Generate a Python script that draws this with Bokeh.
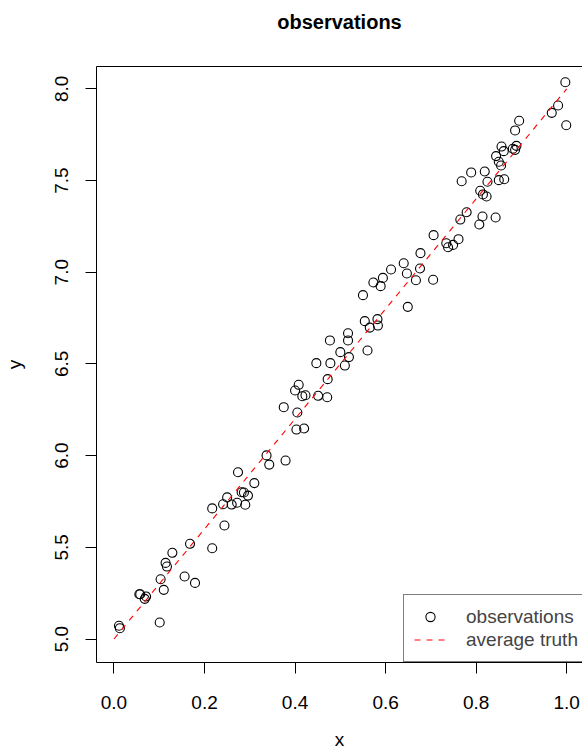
from bokeh.plotting import figure
from bokeh.models import (Range1d, LinearAxis, FixedTicker, NumeralTickFormatter,
                          Legend, LegendItem, ColumnDataSource)
from bokeh.embed import file_html
from bokeh.resources import INLINE

# ---- data ----
obs_x = [0.011, 0.013, 0.101, 0.056, 0.058, 0.068, 0.071, 0.103, 0.110, 0.114,
         0.117, 0.129, 0.156, 0.179, 0.168, 0.217, 0.217, 0.244, 0.241, 0.250,
         0.260, 0.272, 0.290, 0.282, 0.287, 0.296, 0.310, 0.274, 0.337, 0.343,
         0.379, 0.375, 0.405, 0.403, 0.420, 0.408, 0.400, 0.416, 0.423, 0.451,
         0.471, 0.472, 0.447, 0.478, 0.510, 0.477, 0.500, 0.519, 0.560, 0.517,
         0.517, 0.554, 0.565, 0.582, 0.583, 0.649, 0.550, 0.573, 0.589, 0.594,
         0.612, 0.640, 0.647, 0.667, 0.676, 0.677, 0.705, 0.706, 0.734, 0.738,
         0.749, 0.761, 0.765, 0.779, 0.807, 0.814, 0.843, 0.809, 0.815, 0.823,
         0.768, 0.789, 0.819, 0.825, 0.850, 0.862, 0.844, 0.850, 0.855, 0.856,
         0.861, 0.881, 0.886, 0.889, 0.886, 0.895, 0.981, 0.967, 0.997, 0.999]
obs_y = [5.072, 5.059, 5.090, 5.244, 5.244, 5.219, 5.232, 5.326, 5.268, 5.415,
         5.395, 5.470, 5.341, 5.306, 5.519, 5.495, 5.712, 5.619, 5.735, 5.772,
         5.733, 5.743, 5.732, 5.800, 5.799, 5.782, 5.850, 5.909, 6.001, 5.951,
         5.973, 6.264, 6.235, 6.142, 6.148, 6.386, 6.355, 6.324, 6.329, 6.326,
         6.318, 6.417, 6.504, 6.504, 6.491, 6.628, 6.564, 6.537, 6.573, 6.667,
         6.628, 6.733, 6.698, 6.744, 6.709, 6.811, 6.875, 6.944, 6.924, 6.969,
         7.015, 7.049, 6.993, 6.956, 7.020, 7.104, 6.959, 7.202, 7.158, 7.136,
         7.149, 7.180, 7.287, 7.327, 7.260, 7.304, 7.298, 7.444, 7.424, 7.413,
         7.496, 7.544, 7.549, 7.493, 7.502, 7.507, 7.633, 7.602, 7.582, 7.685,
         7.660, 7.673, 7.667, 7.689, 7.773, 7.826, 7.909, 7.869, 8.036, 7.801]
truth_x = [0.0, 1.0]
truth_y = [5.0, 8.0]
x_ticks = [0.0, 0.2, 0.4, 0.6, 0.8, 1.0]
y_ticks = [5.0, 5.5, 6.0, 6.5, 7.0, 7.5, 8.0]
title_text = "observations"
x_label = "x"
y_label = "y"
legend_labels = ["observations", "average truth"]

FONT = "Liberation Sans"
FS = "19px"

p = figure(width=582, height=754, output_backend="svg", toolbar_location=None,
           x_range=Range1d(-0.0386, 1.0349), y_range=Range1d(4.8719, 8.1216),
           min_border_left=93, min_border_right=0, min_border_top=66, min_border_bottom=92,
           background_fill_color="white", border_fill_color="white",
           outline_line_color=None, x_axis_type=None, y_axis_type=None)
p.xgrid.visible = False
p.ygrid.visible = False

def style_axis(ax, ticks, standoff, label, label_standoff):
    ax.ticker = FixedTicker(ticks=ticks)
    ax.formatter = NumeralTickFormatter(format="0.0")
    ax.axis_line_color = "black"
    ax.axis_line_width = 1
    ax.major_tick_line_color = "black"
    ax.major_tick_out = 11
    ax.major_tick_in = 0
    ax.minor_tick_line_color = None
    ax.major_label_text_font = FONT
    ax.major_label_text_font_size = FS
    ax.major_label_text_color = "black"
    ax.major_label_standoff = standoff
    ax.axis_label = label
    ax.axis_label_text_font = FONT
    ax.axis_label_text_font_size = FS
    ax.axis_label_text_font_style = "normal"
    ax.axis_label_text_color = "black"
    ax.axis_label_standoff = label_standoff

xax = LinearAxis()
style_axis(xax, x_ticks, 22, x_label, 17)
p.add_layout(xax, "below")

yax = LinearAxis()
style_axis(yax, y_ticks, 17, y_label, 28)
yax.major_label_orientation = "vertical"
p.add_layout(yax, "left")

# top edge of the box, carrying the chart title (R-style main title)
top = LinearAxis(ticker=FixedTicker(ticks=[]), major_tick_out=0, major_tick_in=0,
                 major_tick_line_color=None, minor_tick_line_color=None,
                 major_label_text_font_size="0px", axis_line_color="black",
                 axis_label=title_text, axis_label_text_font=FONT,
                 axis_label_text_font_size="20px", axis_label_text_font_style="bold",
                 axis_label_text_color="black", axis_label_standoff=34)
p.add_layout(top, "above")

src = ColumnDataSource(dict(x=obs_x, y=obs_y))
r_obs = p.scatter("x", "y", source=src, marker="circle", size=9,
                  fill_color=None, line_color="black", line_width=1.1)
r_truth = p.line(truth_x, truth_y, line_color="red", line_dash="6 6", line_width=1.1)

legend = Legend(items=[LegendItem(label=legend_labels[0], renderers=[r_obs]),
                       LegendItem(label=legend_labels[1], renderers=[r_truth])],
                location=(307, 0), orientation="vertical",
                label_text_font=FONT, label_text_font_size=FS,
                glyph_width=32, glyph_height=23, label_height=23,
                label_standoff=20, spacing=0, padding=10, margin=0,
                border_line_color="black", border_line_width=1,
                background_fill_color="white", background_fill_alpha=1.0)
p.add_layout(legend, "center")

open("out.html", "w").write(file_html(p, INLINE))
